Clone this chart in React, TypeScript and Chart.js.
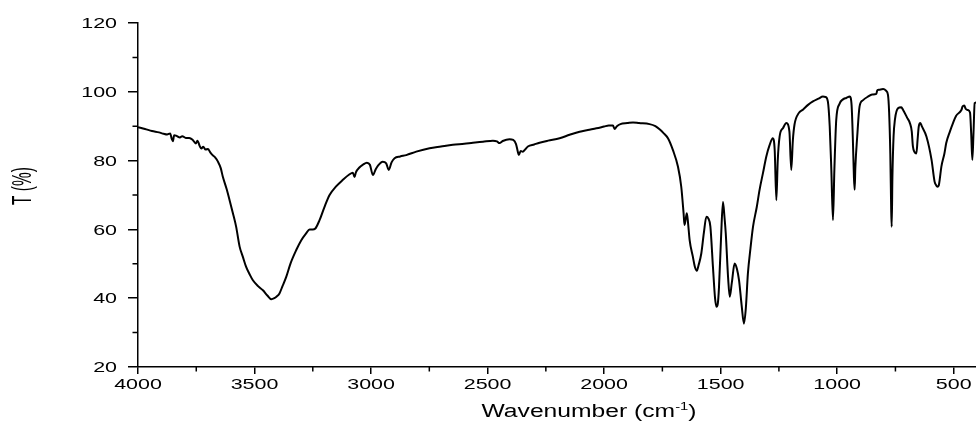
import React, { useEffect, useRef } from "react";
import { Chart, registerables } from "chart.js";

Chart.register(...registerables);

// Wavenumber (cm-1), descending
const wavenumbers = [
  4000, 3970, 3940, 3910, 3890, 3875, 3862, 3855, 3850, 3845, 3835, 3820, 3810, 3795, 3780, 3765, 3752, 3745, 3735,
  3728, 3720, 3710, 3700, 3690, 3680, 3670, 3657, 3645, 3636, 3620, 3607, 3592, 3579, 3564, 3550, 3536, 3520, 3507,
  3485, 3464, 3445, 3428, 3415, 3405, 3393, 3380, 3364, 3345, 3321, 3300, 3278, 3264, 3250, 3240, 3221, 3200, 3178,
  3150, 3121, 3095, 3078, 3071, 3065, 3050, 3035, 3018, 3005, 2992, 2980, 2971, 2950, 2935, 2924, 2912, 2899, 2875,
  2849, 2806, 2749, 2700, 2649, 2600, 2563, 2520, 2477, 2460, 2449, 2435, 2406, 2390, 2378, 2370, 2366, 2358, 2349,
  2338, 2327, 2300, 2277, 2240, 2191, 2148, 2105, 2070, 2033, 2000, 1980, 1962, 1955, 1945, 1930, 1900, 1876, 1850,
  1805, 1780, 1762, 1745, 1726, 1705, 1683, 1669, 1659, 1655, 1650, 1645, 1640, 1633, 1619, 1610, 1602, 1595, 1583,
  1572, 1561, 1553, 1544, 1533, 1524, 1518, 1512, 1507, 1498, 1490, 1484, 1478, 1468, 1461, 1452, 1440, 1430, 1421,
  1410, 1400, 1392, 1383, 1372, 1361, 1345, 1333, 1318, 1304, 1290, 1276, 1268, 1261, 1255, 1247, 1232, 1218, 1205,
  1197, 1190, 1183, 1165, 1147, 1125, 1104, 1080, 1061, 1050, 1040, 1032, 1025, 1018, 1012, 1004, 990, 975, 961, 946,
  938, 933, 928, 925, 922, 914, 904, 890, 868, 850, 832, 828, 820, 803, 790, 782, 777, 772, 768, 766, 763, 758, 752,
  739, 725, 717, 700, 688, 680, 675, 668, 660, 655, 650, 643, 637, 617, 595, 582, 575, 570, 564, 560, 553, 540, 532,
  516, 503, 490, 467, 462, 455, 448, 440, 430, 425, 420, 415, 410, 400,
];

// Transmittance T (%)
const transmittance = [
  89.7, 89.2, 88.6, 88.2, 87.8, 87.6, 87.9, 86.3, 85.6, 87.4, 87.2, 86.7, 87.1, 86.6, 86.6, 86.0, 85.0, 85.8, 84.2,
  83.5, 84.0, 83.2, 83.4, 82.4, 81.6, 81.0, 79.7, 77.8, 75.3, 71.8, 68.5, 64.5, 60.8, 55.0, 52.0, 49.1, 46.8, 45.2,
  43.5, 42.3, 40.8, 39.7, 40.0, 40.5, 41.4, 43.5, 46.2, 50.2, 54.0, 56.8, 58.9, 60.0, 60.0, 60.2, 62.7, 66.5, 70.0,
  72.5, 74.4, 75.9, 76.5, 75.2, 76.6, 78.0, 78.8, 79.4, 78.8, 75.8, 77.5, 78.5, 79.7, 79.2, 77.3, 79.5, 80.7, 81.2,
  81.6, 82.6, 83.6, 84.1, 84.6, 84.9, 85.2, 85.5, 85.8, 85.6, 85.1, 85.7, 86.2, 86.0, 84.8, 82.5, 81.6, 82.8, 82.6,
  83.3, 84.1, 84.7, 85.2, 85.8, 86.5, 87.5, 88.4, 88.9, 89.4, 89.9, 90.2, 90.2, 89.2, 90.0, 90.6, 90.9, 91.1, 90.9,
  90.6, 90.0, 89.1, 88.0, 86.5, 83.1, 78.2, 72.4, 64.7, 61.3, 63.0, 64.7, 62.0, 56.9, 52.0, 49.0, 48.0, 49.5, 53.0,
  59.0, 63.7, 63.2, 60.8, 49.1, 40.0, 37.5, 38.5, 43.3, 58.0, 68.0, 64.0, 58.8, 46.0, 40.4, 44.5, 50.1, 48.5, 45.2,
  38.0, 32.6, 37.0, 47.2, 54.5, 60.8, 66.5, 71.5, 76.5, 81.2, 84.5, 86.5, 83.0, 68.5, 80.0, 87.0, 89.5, 90.9, 88.5,
  77.3, 86.0, 90.5, 93.8, 94.8, 96.2, 97.2, 98.0, 98.6, 98.5, 97.2, 90.0, 77.3, 62.7, 77.3, 91.8, 96.5, 97.8, 98.2, 98.6,
  96.0, 87.0, 75.0, 71.5, 78.0, 87.0, 95.7, 97.5, 98.6, 99.2, 99.4, 100.4, 100.6, 100.8, 100.3, 99.1, 94.0, 82.1, 65.0,
  60.8, 75.0, 87.0, 92.0, 95.2, 95.5, 94.7, 92.5, 90.9, 88.5, 84.1, 82.5, 82.1, 86.0, 89.9, 90.9, 90.0, 87.0, 80.2,
  73.9, 72.8, 72.4, 72.8, 74.5, 78.2, 82.0, 85.1, 88.5, 90.9, 93.0, 94.7, 95.7, 96.0, 95.0, 94.7, 94.0, 88.0, 80.2,
  88.0, 96.7, 97.0,
];

const xTickValues = [4000, 3500, 3000, 2500, 2000, 1500, 1000, 500];
const xMinorValues = [3750, 3250, 2750, 2250, 1750, 1250, 750];
const yTickValues = [20, 40, 60, 80, 100, 120];
const yMinorValues = [30, 50, 70, 90, 110];

const FONT = '"Liberation Sans", Arial, sans-serif';

function drawStretched(
  ctx: CanvasRenderingContext2D,
  text: string,
  x: number,
  y: number,
  sx: number,
  size: number,
  align: CanvasTextAlign
) {
  ctx.save();
  ctx.translate(x, y);
  ctx.scale(sx, 1);
  ctx.font = `${size}px ${FONT}`;
  ctx.textAlign = align;
  ctx.textBaseline = "alphabetic";
  ctx.fillText(text, 0, 0);
  ctx.restore();
}

const axisDecor = {
  id: "axisDecor",
  afterDraw(chart: any) {
    const ctx: CanvasRenderingContext2D = chart.ctx;
    const xs = chart.scales.x;
    const ys = chart.scales.y;
    const area = chart.chartArea;
    ctx.save();
    ctx.strokeStyle = "#000";
    ctx.fillStyle = "#000";
    ctx.lineWidth = 1.5;
    // minor ticks
    ctx.beginPath();
    for (const v of xMinorValues) {
      const px = xs.getPixelForValue(v);
      ctx.moveTo(px, area.bottom);
      ctx.lineTo(px, area.bottom + 4.5);
    }
    for (const v of yMinorValues) {
      const py = ys.getPixelForValue(v);
      ctx.moveTo(area.left - 5.5, py);
      ctx.lineTo(area.left, py);
    }
    ctx.stroke();

    // tick labels
    const tickSize = 15;
    const tickStretch = 1.43;
    for (const v of xTickValues) {
      const px = xs.getPixelForValue(v);
      drawStretched(ctx, String(v), px, 389, tickStretch, tickSize, "center");
    }
    for (const v of yTickValues) {
      const py = ys.getPixelForValue(v);
      drawStretched(ctx, String(v), area.left - 21, py + 5.2, tickStretch, tickSize, "right");
    }

    // y title
    ctx.save();
    ctx.translate(24, 186);
    ctx.scale(1.75, 1);
    ctx.rotate(-Math.PI / 2);
    ctx.font = `15.5px ${FONT}`;
    ctx.textAlign = "center";
    ctx.textBaseline = "middle";
    ctx.fillText("T (%)", 0, 0);
    ctx.restore();

    // x title
    const tSize = 18;
    const tStretch = 1.37;
    const p1 = "Wavenumber (cm";
    const sup = "-1";
    const p2 = ")";
    ctx.font = `${tSize}px ${FONT}`;
    const w1 = ctx.measureText(p1).width;
    const w3 = ctx.measureText(p2).width;
    ctx.font = `${tSize * 0.6}px ${FONT}`;
    const w2 = ctx.measureText(sup).width;
    const total = (w1 + w2 + w3) * tStretch;
    let x0 = 589 - total / 2;
    const base = 417;
    drawStretched(ctx, p1, x0, base, tStretch, tSize, "left");
    x0 += w1 * tStretch;
    drawStretched(ctx, sup, x0, base - 7.5, tStretch, tSize * 0.6, "left");
    x0 += w2 * tStretch;
    drawStretched(ctx, p2, x0, base, tStretch, tSize, "left");
    ctx.restore();
  },
};

export default function App() {
  const ref = useRef<HTMLCanvasElement | null>(null);

  useEffect(() => {
    if (!ref.current) return;
    const points = wavenumbers.map((w, i) => ({ x: w, y: transmittance[i] }));
    const chart = new Chart(ref.current, {
      type: "line",
      data: {
        datasets: [
          {
            data: points,
            borderColor: "#000",
            borderWidth: 2,
            pointRadius: 0,
            cubicInterpolationMode: "monotone",
            fill: false,
          },
        ],
      },
      options: {
        animation: false,
        responsive: false,
        devicePixelRatio: 1,
        layout: { padding: { top: 23, right: 3, left: 0, bottom: 0 } },
        plugins: { legend: { display: false }, tooltip: { enabled: false } },
        scales: {
          x: {
            type: "linear",
            reverse: true,
            min: 400,
            max: 4000,
            ticks: { display: false, stepSize: 500 },
            afterBuildTicks: (s: any) => {
              s.ticks = xTickValues.map((v) => ({ value: v }));
            },
            afterFit: (s: any) => {
              s.height = 55;
            },
            grid: { drawOnChartArea: false, drawTicks: true, tickLength: 7, color: "#000", lineWidth: 1.5 },
            border: { display: true, color: "#000", width: 1.5 },
          },
          y: {
            min: 20,
            max: 120,
            ticks: { display: false, stepSize: 20 },
            afterBuildTicks: (s: any) => {
              s.ticks = yTickValues.map((v) => ({ value: v }));
            },
            afterFit: (s: any) => {
              s.width = 138;
            },
            grid: { drawOnChartArea: false, drawTicks: true, tickLength: 10, color: "#000", lineWidth: 1.5 },
            border: { display: true, color: "#000", width: 1.5 },
          },
        },
      },
      plugins: [axisDecor],
    });
    return () => chart.destroy();
  }, []);

  return (
    <div
      style={{
        position: "fixed",
        left: 0,
        top: 0,
        width: 976,
        height: 422,
        overflow: "hidden",
        background: "#fff",
      }}
    >
      <canvas ref={ref} width={980} height={422} style={{ display: "block", width: 980, height: 422 }} />
    </div>
  );
}
